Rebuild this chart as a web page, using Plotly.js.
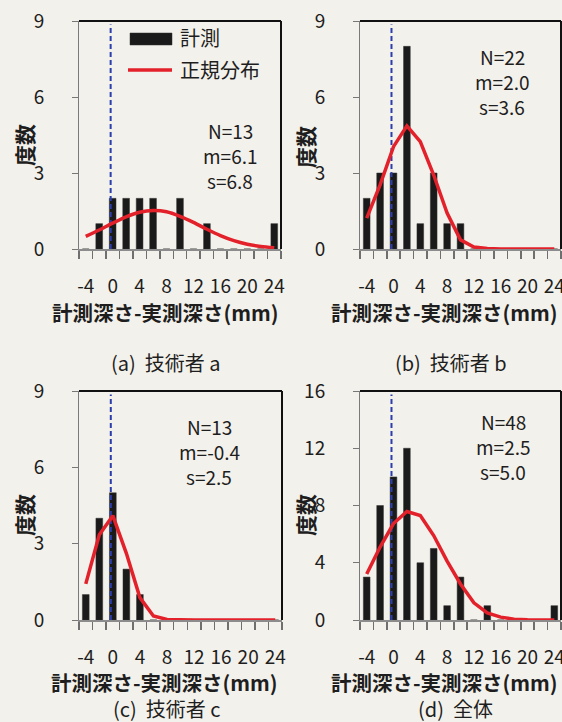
<!DOCTYPE html>
<html>
<head>
<meta charset="utf-8">
<script src="https://cdn.plot.ly/plotly-3.0.1.min.js"></script>
<style>
  html, body { margin: 0; padding: 0; background: #f3f1eb; }
  #chart { width: 562px; height: 722px; }
</style>
</head>
<body>
<div id="chart"></div>
<script>
// ---------- data ----------
const bins = [-4, -2, 0, 2, 4, 6, 8, 10, 12, 14, 16, 18, 20, 22, 24];
const xTickVals = [-4, 0, 4, 8, 12, 16, 20, 24];
const xTickText = ['-4', '0', '4', '8', '12', '16', '20', '24'];
const xBinEdges = [-5, -3, -1, 1, 3, 5, 7, 9, 11, 13, 15, 17, 19, 21, 23, 25];

const countsA = [0, 1, 2, 2, 2, 2, 0, 2, 0, 1, 0, 0, 0, 0, 1];
const countsB = [2, 3, 3, 8, 1, 3, 1, 1, 0, 0, 0, 0, 0, 0, 0];
const countsC = [1, 4, 5, 2, 1, 0, 0, 0, 0, 0, 0, 0, 0, 0, 0];
const countsD = [3, 8, 10, 12, 4, 5, 1, 3, 0, 1, 0, 0, 0, 0, 1];

const normA = [0.50, 0.75, 1.02, 1.27, 1.45, 1.52, 1.47, 1.29, 1.05, 0.78, 0.53, 0.33, 0.19, 0.10, 0.05];
const normB = [1.22, 2.53, 4.04, 4.86, 4.24, 2.92, 1.42, 0.36, 0.08, 0.02, 0.00, 0.00, 0.00, 0.00, 0.00];
const normC = [1.42, 3.35, 4.10, 2.62, 0.88, 0.16, 0.02, 0.00, 0.00, 0.00, 0.00, 0.00, 0.00, 0.00, 0.00];
const normD = [3.22, 5.10, 6.74, 7.58, 7.30, 5.90, 4.12, 2.52, 1.20, 0.50, 0.20, 0.06, 0.02, 0.00, 0.00];

const statsA = ['N=13', 'm=6.1', 's=6.8'];
const statsB = ['N=22', 'm=2.0', 's=3.6'];
const statsC = ['N=13', 'm=-0.4', 's=2.5'];
const statsD = ['N=48', 'm=2.5', 's=5.0'];

const yTicksSmall = [0, 3, 6, 9];
const yTicksLarge = [0, 4, 8, 12, 16];
const yRangeSmall = [0, 9];
const yRangeLarge = [0, 16];

const zeroRef = -0.3;   // measured = actual reference line

const captions = ['(a)  技術者 a', '(b)  技術者 b', '(c)  技術者 c', '(d)  全体'];
const xTitle = '計測深さ-実測深さ(mm)';
const yTitle = '度数';
const legendBar = '計測';
const legendLine = '正規分布';

// ---------- style ----------
const F = '"Noto Sans CJK JP", "Noto Sans", sans-serif';
const TXT = '#1e1e1e';
const BAR = '#1a1a1a';
const RED = '#e3212b';
const BLUE = '#2b3eae';
const BG = '#f3f1eb';
const W = 562, H = 722;

const panels = [
  {counts: countsA, norm: normA, stats: statsA, yr: yRangeSmall, yt: yTicksSmall, spline: true,
   px: [79, 281], py: [21, 249], stx: 230, sty: 130, cap: [165, 362],
   xt: [165, 312], yti: [24, 145]},
  {counts: countsB, norm: normB, stats: statsB, yr: yRangeSmall, yt: yTicksSmall, spline: false,
   px: [360, 561], py: [21, 249], stx: 502, sty: 56, cap: [451, 362],
   xt: [445, 312], yti: [305, 147]},
  {counts: countsC, norm: normC, stats: statsC, yr: yRangeSmall, yt: yTicksSmall, spline: false,
   px: [79, 282], py: [391, 620], stx: 209, sty: 426, cap: [166, 708],
   xt: [164, 682], yti: [24, 515]},
  {counts: countsD, norm: normD, stats: statsD, yr: yRangeLarge, yt: yTicksLarge, spline: false,
   px: [360, 561], py: [391, 620], stx: 503, sty: 421, cap: [455, 708],
   xt: [445, 682], yti: [305, 515]}
];
const statLineGap = 25;

const data = [];
const layout = {
  width: W, height: H,
  margin: {l: 0, r: 0, t: 0, b: 0},
  paper_bgcolor: BG,
  plot_bgcolor: BG,
  showlegend: false,
  font: {family: F, color: TXT},
  shapes: [],
  annotations: []
};

panels.forEach((p, i) => {
  const n = i + 1;
  const xa = n === 1 ? 'x' : 'x' + n;
  const ya = n === 1 ? 'y' : 'y' + n;
  const xKey = n === 1 ? 'xaxis' : 'xaxis' + n;
  const yKey = n === 1 ? 'yaxis' : 'yaxis' + n;

  data.push({
    type: 'bar', x: bins, y: p.counts, xaxis: xa, yaxis: ya,
    width: 1.0, marker: {color: BAR, line: {color: '#333', width: 0.5}},
    name: legendBar, hoverinfo: 'x+y'
  });
  data.push({
    type: 'scatter', mode: 'lines', x: [zeroRef, zeroRef], y: [0, p.yr[1] * 0.985],
    xaxis: xa, yaxis: ya, line: {color: BLUE, width: 2, dash: '5px,3px'}, hoverinfo: 'skip'
  });
  data.push({
    type: 'scatter', mode: 'lines', x: bins, y: p.norm, xaxis: xa, yaxis: ya,
    line: {color: RED, width: 3.5, shape: p.spline ? 'spline' : 'linear', smoothing: 0.8},
    name: legendLine
  });

  layout[xKey] = {
    domain: [p.px[0] / W, p.px[1] / W], anchor: ya,
    range: [-5, 25], tickmode: 'array', tickvals: xTickVals, ticktext: xTickText,
    ticks: '', showline: true, linecolor: '#8c8c8c', linewidth: 1.5,
    showgrid: false, zeroline: false, fixedrange: true,
    tickfont: {size: 19, family: F, color: TXT}, ticklabelstandoff: 20,
    ticklabeloverflow: 'allow',
    minor: {tickmode: 'array', tickvals: xBinEdges, ticks: 'outside', ticklen: 8, tickwidth: 1.5, tickcolor: '#6f6f6f', showgrid: false}
  };
  layout[yKey] = {
    domain: [1 - p.py[1] / H, 1 - p.py[0] / H], anchor: xa,
    range: p.yr, tickmode: 'array', tickvals: p.yt,
    ticks: 'outside', ticklen: 6, tickwidth: 1, tickcolor: '#777',
    showline: true, linecolor: '#7a7a7a', linewidth: 1,
    showgrid: false, zeroline: false, fixedrange: true,
    tickfont: {size: 19, family: F, color: TXT}, ticklabelstandoff: 24
  };

  // plot-area border (top and right)
  layout.shapes.push({type: 'line', xref: xa + ' domain', yref: ya + ' domain', x0: 0, x1: 1, y0: 1, y1: 1, line: {color: '#111', width: 2}});
  layout.shapes.push({type: 'line', xref: xa + ' domain', yref: ya + ' domain', x0: 1, x1: 1, y0: 0, y1: 1, line: {color: '#111', width: 2}});

  // axis titles
  layout.annotations.push({
    xref: 'paper', yref: 'paper', x: p.xt[0] / W, y: 1 - p.xt[1] / H,
    text: '<b>' + xTitle + '</b>', showarrow: false, xanchor: 'center', yanchor: 'middle',
    font: {size: 20.5, family: F, color: TXT}
  });
  layout.annotations.push({
    xref: 'paper', yref: 'paper', x: p.yti[0] / W, y: 1 - p.yti[1] / H,
    text: '<b>' + yTitle + '</b>', textangle: -90, showarrow: false, xanchor: 'center', yanchor: 'middle',
    font: {size: 21, family: F, color: TXT}
  });

  // stats text, one line each
  p.stats.forEach((s, k) => {
    layout.annotations.push({
      xref: 'paper', yref: 'paper', x: p.stx / W, y: 1 - (p.sty + k * statLineGap) / H,
      text: s, showarrow: false, xanchor: 'center', yanchor: 'middle',
      font: {size: 19, family: F, color: TXT}
    });
  });
  // caption
  layout.annotations.push({
    xref: 'paper', yref: 'paper', x: p.cap[0] / W, y: 1 - p.cap[1] / H,
    text: captions[i], showarrow: false, xanchor: 'center', yanchor: 'middle',
    font: {size: 20, family: F, color: TXT}
  });
});

// legend (panel a)
layout.shapes.push({type: 'rect', xref: 'paper', yref: 'paper',
  x0: 130 / W, x1: 172 / W, y0: 1 - 45 / H, y1: 1 - 33 / H,
  fillcolor: BAR, line: {color: '#333', width: 0.5}});
layout.shapes.push({type: 'line', xref: 'paper', yref: 'paper',
  x0: 128 / W, x1: 172 / W, y0: 1 - 70 / H, y1: 1 - 70 / H,
  line: {color: RED, width: 3.5}});
layout.annotations.push({xref: 'paper', yref: 'paper', x: 178 / W, y: 1 - 38 / H,
  text: legendBar, showarrow: false, xanchor: 'left', yanchor: 'middle',
  font: {size: 20, family: F, color: TXT}});
layout.annotations.push({xref: 'paper', yref: 'paper', x: 178 / W, y: 1 - 70 / H,
  text: legendLine, showarrow: false, xanchor: 'left', yanchor: 'middle',
  font: {size: 20, family: F, color: TXT}});

Plotly.newPlot('chart', data, layout, {staticPlot: true, displayModeBar: false});
</script>
</body>
</html>
